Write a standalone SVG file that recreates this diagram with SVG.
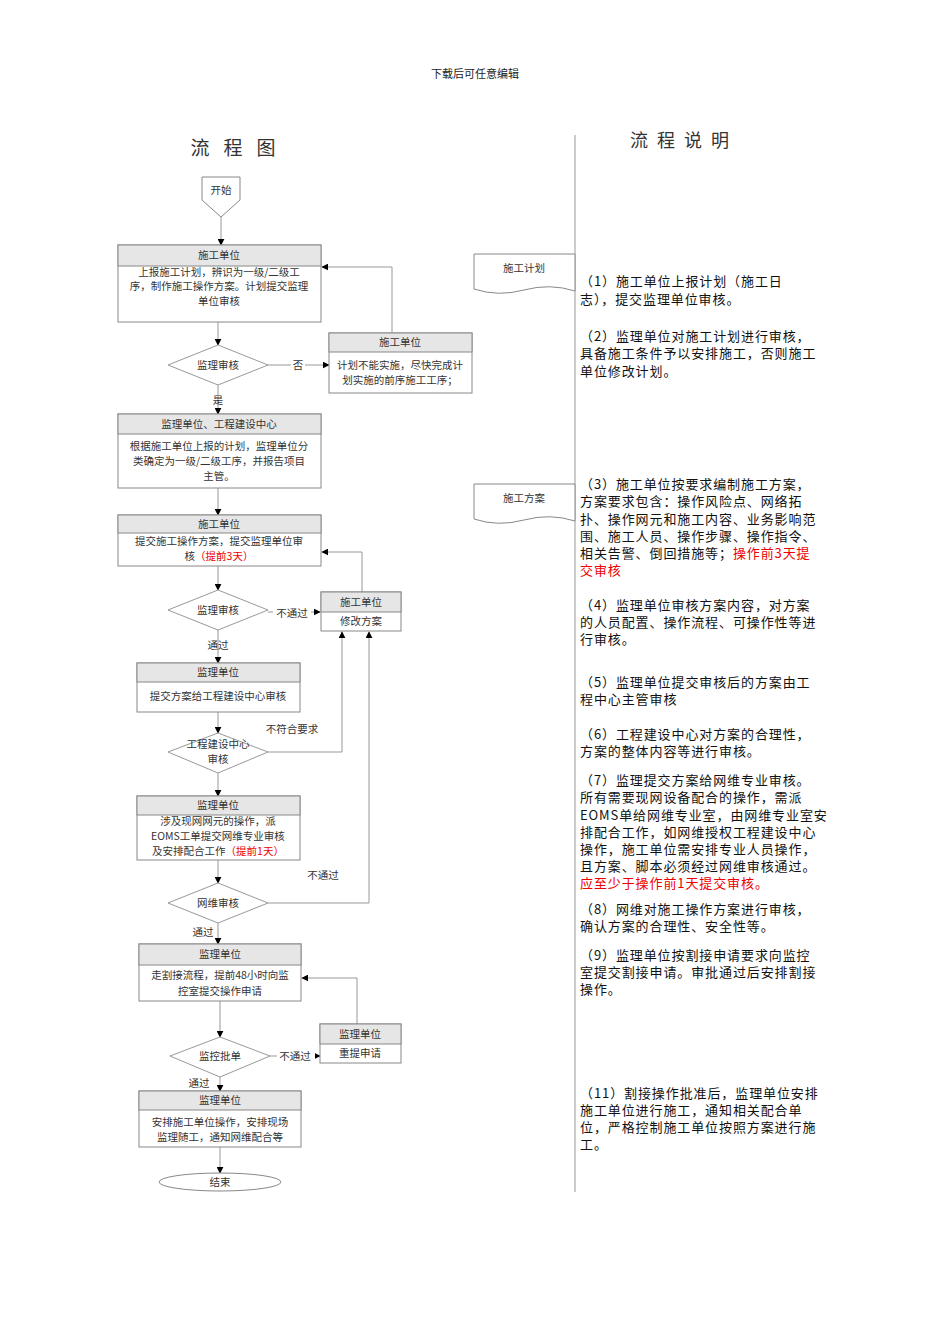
<svg xmlns="http://www.w3.org/2000/svg" width="950" height="1344" viewBox="0 0 950 1344">
<style>
text{font-family:"Noto Sans CJK SC","Liberation Sans",sans-serif}
.f{font-size:10.5px;fill:#333;text-anchor:middle}
.h{font-size:10.5px;fill:#333;text-anchor:middle}
.r{font-size:13px;fill:#111;letter-spacing:0.9px}
.red{fill:#e00}
.box{fill:#fff;stroke:#888;stroke-width:1}
.hd{fill:#e6e6e6;stroke:#888;stroke-width:1}
.dm{fill:#fff;stroke:#999;stroke-width:1}
.ln{fill:none;stroke:#999;stroke-width:1}
.lb{font-size:10.5px;fill:#333}
</style>
<defs>
<marker id="a" viewBox="0 0 10 10" refX="9" refY="5" markerWidth="7" markerHeight="7" orient="auto"><path d="M0,0L10,5L0,10z" fill="#000"/></marker>
</defs>
<rect width="950" height="1344" fill="#fff"/>
<text x="475" y="78" style="font-size:11px;fill:#222;text-anchor:middle">下载后可任意编辑</text>
<text x="240" y="155" style="font-size:19px;fill:#333;text-anchor:middle" letter-spacing="14">流程图</text>
<text x="684" y="147" style="font-size:18px;fill:#333;text-anchor:middle" letter-spacing="9">流程说明</text>
<line x1="575" y1="135" x2="575" y2="1192" stroke="#999"/>

<g id="connectors">
<path class="ln" d="M221,217V245" marker-end="url(#a)"/>
<path class="ln" d="M218,322V345" marker-end="url(#a)"/>
<path class="ln" d="M268,365H329" marker-end="url(#a)"/>
<path class="ln" d="M392,333V267H322" marker-end="url(#a)"/>
<path class="ln" d="M218,385V414" marker-end="url(#a)"/>
<path class="ln" d="M218,488V515" marker-end="url(#a)"/>
<path class="ln" d="M362,592V552H322" marker-end="url(#a)"/>
<path class="ln" d="M218,566V590" marker-end="url(#a)"/>
<path class="ln" d="M268,612H320" marker-end="url(#a)"/>
<path class="ln" d="M218,630V663" marker-end="url(#a)"/>
<path class="ln" d="M218,712V733" marker-end="url(#a)"/>
<path class="ln" d="M268,752H342V632" marker-end="url(#a)"/>
<path class="ln" d="M218,773V796" marker-end="url(#a)"/>
<path class="ln" d="M218,860V883" marker-end="url(#a)"/>
<path class="ln" d="M268,903H369V632" marker-end="url(#a)"/>
<path class="ln" d="M218,923V944" marker-end="url(#a)"/>
<path class="ln" d="M357,1024V978H302" marker-end="url(#a)"/>
<path class="ln" d="M220,1001V1037" marker-end="url(#a)"/>
<path class="ln" d="M270,1056H320" marker-end="url(#a)"/>
<path class="ln" d="M220,1077V1091" marker-end="url(#a)"/>
<path class="ln" d="M220,1147V1173" marker-end="url(#a)"/>
<rect x="291" y="359" width="14" height="12" fill="#fff"/>
<text class="lb" x="298" y="369" text-anchor="middle">否</text>
<text class="lb" x="218" y="404" text-anchor="middle">是</text>
<rect x="273" y="606" width="38" height="14" fill="#fff"/>
<text class="lb" x="292" y="617" text-anchor="middle">不通过</text>
<text class="lb" x="218" y="649" text-anchor="middle">通过</text>
<text class="lb" x="292" y="733" text-anchor="middle">不符合要求</text>
<text class="lb" x="323" y="879" text-anchor="middle">不通过</text>
<text class="lb" x="203" y="936" text-anchor="middle">通过</text>
<rect x="277" y="1050" width="38" height="14" fill="#fff"/>
<text class="lb" x="295" y="1060" text-anchor="middle">不通过</text>
<text class="lb" x="199" y="1087" text-anchor="middle">通过</text>
</g>

<g id="start"><path class="box" d="M202,177H240V200L221,217L202,200Z"/><text class="f" x="221" y="194">开始</text></g>

<g id="n1"><rect class="box" x="118" y="245" width="203" height="77"/><rect class="hd" x="118" y="245" width="203" height="21"/>
<text class="h" x="219" y="259">施工单位</text>
<text class="f" x="219" y="276">上报施工计划，辨识为一级/二级工</text>
<text class="f" x="219" y="290">序，制作施工操作方案。计划提交监理</text>
<text class="f" x="219" y="305">单位审核</text></g>

<g id="d1"><path class="dm" d="M168,365L218,345L268,365L218,385Z"/><text class="f" x="218" y="369">监理审核</text></g>

<g id="n2"><rect class="box" x="329" y="333" width="143" height="60"/><rect class="hd" x="329" y="333" width="143" height="19"/>
<text class="h" x="400" y="346">施工单位</text>
<text class="f" x="400" y="369">计划不能实施，尽快完成计</text>
<text class="f" x="400" y="384">划实施的前序施工工序；</text></g>

<g id="n3"><rect class="box" x="118" y="414" width="203" height="74"/><rect class="hd" x="118" y="414" width="203" height="20"/>
<text class="h" x="219" y="428">监理单位、工程建设中心</text>
<text class="f" x="219" y="450">根据施工单位上报的计划，监理单位分</text>
<text class="f" x="219" y="465">类确定为一级/二级工序，并报告项目</text>
<text class="f" x="219" y="480">主管。</text></g>

<g id="n4"><rect class="box" x="118" y="515" width="203" height="51"/><rect class="hd" x="118" y="515" width="203" height="18"/>
<text class="h" x="219" y="528">施工单位</text>
<text class="f" x="219" y="545">提交施工操作方案，提交监理单位审</text>
<text class="f" x="219" y="560">核<tspan class="red">（提前3天）</tspan></text></g>

<g id="d2"><path class="dm" d="M168,610L218,590L268,610L218,630Z"/><text class="f" x="218" y="614">监理审核</text></g>

<g id="n5"><rect class="box" x="321" y="592" width="80" height="39"/><rect class="hd" x="321" y="592" width="80" height="20"/>
<text class="h" x="361" y="606">施工单位</text>
<text class="f" x="361" y="625">修改方案</text></g>

<g id="n6"><rect class="box" x="137" y="663" width="163" height="49"/><rect class="hd" x="137" y="663" width="163" height="19"/>
<text class="h" x="218" y="676">监理单位</text>
<text class="f" x="218" y="700">提交方案给工程建设中心审核</text></g>

<g id="d3"><path class="dm" d="M168,752L218,733L268,752L218,773Z"/>
<text class="f" x="218" y="748">工程建设中心</text><text class="f" x="218" y="763">审核</text></g>

<g id="n7"><rect class="box" x="137" y="796" width="163" height="64"/><rect class="hd" x="137" y="796" width="163" height="19"/>
<text class="h" x="218" y="809">监理单位</text>
<text class="f" x="218" y="825">涉及现网网元的操作，派</text>
<text class="f" x="218" y="840">EOMS工单提交网维专业审核</text>
<text class="f" x="218" y="855">及安排配合工作<tspan class="red">（提前1天）</tspan></text></g>

<g id="d4"><path class="dm" d="M168,903L218,883L268,903L218,923Z"/><text class="f" x="218" y="907">网维审核</text></g>

<g id="n8"><rect class="box" x="139" y="944" width="162" height="57"/><rect class="hd" x="139" y="944" width="162" height="21"/>
<text class="h" x="220" y="958">监理单位</text>
<text class="f" x="220" y="979">走割接流程，提前48小时向监</text>
<text class="f" x="220" y="995">控室提交操作申请</text></g>

<g id="d5"><path class="dm" d="M170,1056L220,1037L270,1056L220,1077Z"/><text class="f" x="220" y="1060">监控批单</text></g>

<g id="n9"><rect class="box" x="320" y="1024" width="81" height="39"/><rect class="hd" x="320" y="1024" width="81" height="20"/>
<text class="h" x="360" y="1038">监理单位</text>
<text class="f" x="360" y="1057">重提申请</text></g>

<g id="n10"><rect class="box" x="139" y="1091" width="162" height="56"/><rect class="hd" x="139" y="1091" width="162" height="19"/>
<text class="h" x="220" y="1104">监理单位</text>
<text class="f" x="220" y="1126">安排施工单位操作，安排现场</text>
<text class="f" x="220" y="1141">监理随工，通知网维配合等</text></g>

<g id="end"><ellipse class="box" cx="220" cy="1182" rx="61" ry="9"/><text class="f" x="220" y="1186">结束</text></g>

<g id="doc1"><path class="box" d="M474,254H575V291Q550,283 524,290T474,289Z"/><text class="f" x="524" y="272">施工计划</text></g>
<g id="doc2"><path class="box" d="M474,484H575V521Q550,513 524,520T474,519Z"/><text class="f" x="524" y="502">施工方案</text></g>

<g id="notes">
<text class="r" x="580" y="286">（1）施工单位上报计划（施工日</text>
<text class="r" x="580" y="304">志），提交监理单位审核。</text>
<text class="r" x="580" y="341">（2）监理单位对施工计划进行审核，</text>
<text class="r" x="580" y="358">具备施工条件予以安排施工，否则施工</text>
<text class="r" x="580" y="376">单位修改计划。</text>
<text class="r" x="580" y="489">（3）施工单位按要求编制施工方案，</text>
<text class="r" x="580" y="506">方案要求包含：操作风险点、网络拓</text>
<text class="r" x="580" y="524">扑、操作网元和施工内容、业务影响范</text>
<text class="r" x="580" y="541">围、施工人员、操作步骤、操作指令、</text>
<text class="r" x="580" y="558">相关告警、倒回措施等；<tspan class="red">操作前3天提</tspan></text>
<text class="r red" x="580" y="575">交审核</text>
<text class="r" x="580" y="610">（4）监理单位审核方案内容，对方案</text>
<text class="r" x="580" y="627">的人员配置、操作流程、可操作性等进</text>
<text class="r" x="580" y="644">行审核。</text>
<text class="r" x="580" y="687">（5）监理单位提交审核后的方案由工</text>
<text class="r" x="580" y="704">程中心主管审核</text>
<text class="r" x="580" y="739">（6）工程建设中心对方案的合理性，</text>
<text class="r" x="580" y="756">方案的整体内容等进行审核。</text>
<text class="r" x="580" y="785">（7）监理提交方案给网维专业审核。</text>
<text class="r" x="580" y="802">所有需要现网设备配合的操作，需派</text>
<text class="r" x="580" y="820">EOMS单给网维专业室，由网维专业室安</text>
<text class="r" x="580" y="837">排配合工作，如网维授权工程建设中心</text>
<text class="r" x="580" y="854">操作，施工单位需安排专业人员操作，</text>
<text class="r" x="580" y="871">且方案、脚本必须经过网维审核通过。</text>
<text class="r red" x="580" y="888">应至少于操作前1天提交审核。</text>
<text class="r" x="580" y="914">（8）网维对施工操作方案进行审核，</text>
<text class="r" x="580" y="931">确认方案的合理性、安全性等。</text>
<text class="r" x="580" y="960">（9）监理单位按割接申请要求向监控</text>
<text class="r" x="580" y="977">室提交割接申请。审批通过后安排割接</text>
<text class="r" x="580" y="994">操作。</text>
<text class="r" x="580" y="1098">（11）割接操作批准后，监理单位安排</text>
<text class="r" x="580" y="1115">施工单位进行施工，通知相关配合单</text>
<text class="r" x="580" y="1132">位，严格控制施工单位按照方案进行施</text>
<text class="r" x="580" y="1149">工。</text>
</g>
</svg>
